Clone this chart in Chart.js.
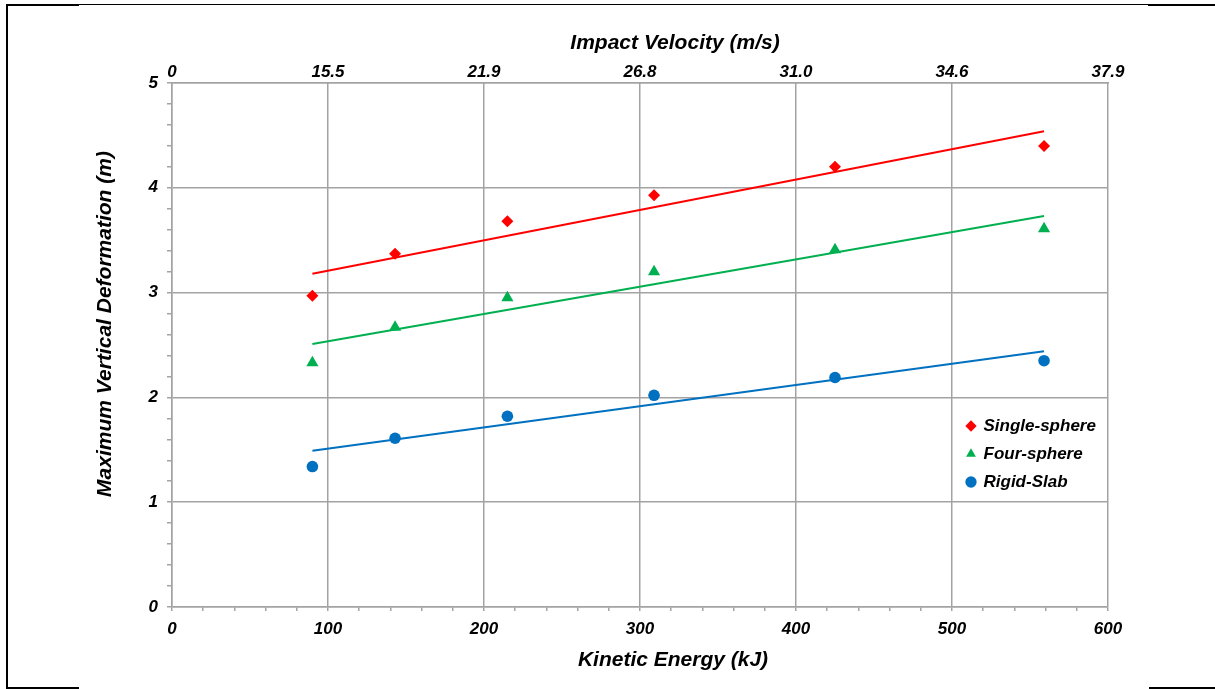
<!DOCTYPE html>
<html><head><meta charset="utf-8">
<script src="https://cdn.jsdelivr.net/npm/chart.js@4.4.1/dist/chart.umd.min.js"></script>
<style>html,body{margin:0;padding:0;background:#fff;} #wrap{width:1215px;height:689px;position:relative;}</style>
</head><body><div id="wrap"><canvas id="c"></canvas></div>
<script>
// ---- data ----
const energyKJ = [90, 143, 215, 309, 425, 559];
const singleSphere = [2.97, 3.37, 3.68, 3.93, 4.20, 4.40];
const fourSphere = [2.33, 2.67, 2.95, 3.20, 3.41, 3.61];
const rigidSlab = [1.34, 1.61, 1.82, 2.02, 2.19, 2.35];
const trendEnergy = [90, 559];
const singleTrend = [3.18, 4.54];
const fourTrend = [2.51, 3.73];
const rigidTrend = [1.49, 2.44];
const velocityLabels = ['0', '15.5', '21.9', '26.8', '31.0', '34.6', '37.9'];
const seriesNames = ['Single-sphere', 'Four-sphere', 'Rigid-Slab'];

// ---- styles ----
const RED = '#FF0000', GREEN = '#00B050', BLUE = '#0070C0';
const GRID = '#A3A3A3';
const FAMILY = '"Liberation Sans", Arial, sans-serif';
const tickFont = { family: FAMILY, size: 17, style: 'italic', weight: 'bold' };

Chart.defaults.font.family = FAMILY;
Chart.defaults.color = '#000';

const pts = (xs, ys) => xs.map((x, i) => ({ x: x, y: ys[i] }));
const isMult = (v, m) => Math.abs(v / m - Math.round(v / m)) < 1e-6;

function pointSet(label, ys, color, style, r) {
  return { label: label, data: pts(energyKJ, ys), showLine: false, pointStyle: style,
    pointRadius: r, pointHoverRadius: r, backgroundColor: color, borderColor: color,
    borderWidth: 0, pointBorderWidth: 0 };
}
function trendSet(label, ys, color) {
  return { label: label, data: pts(trendEnergy, ys), showLine: true, pointRadius: 0,
    pointHoverRadius: 0, borderColor: color, backgroundColor: color, borderWidth: 2, fill: false };
}

const legendPlacer = {
  id: 'legendPlacer',
  afterUpdate(chart) {
    const lg = chart.legend;
    if (!lg) return;
    lg.left = 956; lg.top = 406.5; lg.width = 170; lg.height = 110;
    lg.right = lg.left + lg.width; lg.bottom = lg.top + lg.height;
  }
};

const axisTitles = {
  id: 'axisTitles',
  afterDraw(chart) {
    const ctx = chart.ctx;
    const sc = chart.options.scales;
    ctx.save();
    ctx.fillStyle = '#000';
    ctx.font = 'italic bold 21px ' + FAMILY;
    ctx.textAlign = 'center';
    ctx.textBaseline = 'middle';
    ctx.fillText(sc.x2.title.text, 675, 43);
    ctx.fillText(sc.x.title.text, 673, 660);
    ctx.translate(105, 324);
    ctx.rotate(-Math.PI / 2);
    ctx.fillText(sc.y.title.text, 0, 0);
    ctx.restore();
  }
};

const frame = {
  id: 'frame',
  afterDraw(chart) {
    const ctx = chart.ctx;
    ctx.save();
    ctx.strokeStyle = '#000';
    ctx.lineWidth = 1;
    ctx.beginPath(); ctx.moveTo(7, 4.5); ctx.lineTo(1215, 4.5); ctx.stroke();
    ctx.lineWidth = 2;
    ctx.beginPath();
    ctx.moveTo(7, 4); ctx.lineTo(7, 689);
    ctx.moveTo(6, 5); ctx.lineTo(79, 5);
    ctx.moveTo(1148, 5); ctx.lineTo(1215, 5);
    ctx.moveTo(6, 688); ctx.lineTo(79, 688);
    ctx.moveTo(1149, 688); ctx.lineTo(1215, 688);
    ctx.stroke();
    ctx.restore();
  }
};

new Chart(document.getElementById('c'), {
  type: 'scatter',
  data: {
    datasets: [
      pointSet(seriesNames[0], singleSphere, RED, 'rectRot', 6),
      pointSet(seriesNames[1], fourSphere, GREEN, 'triangle', 7),
      pointSet(seriesNames[2], rigidSlab, BLUE, 'circle', 5.8),
      trendSet(seriesNames[0] + ' trend', singleTrend, RED),
      trendSet(seriesNames[1] + ' trend', fourTrend, GREEN),
      trendSet(seriesNames[2] + ' trend', rigidTrend, BLUE)
    ]
  },
  options: {
    responsive: true, maintainAspectRatio: false, animation: false, devicePixelRatio: 1,
    layout: { padding: { left: 0, right: 107, top: 0, bottom: 0 } },
    plugins: {
      tooltip: { enabled: false },
      legend: {
        position: 'chartArea', align: 'start',
        labels: { usePointStyle: true, boxWidth: 8, boxHeight: 8, padding: 11, color: '#000',
          font: { family: FAMILY, size: 17, style: 'italic', weight: 'bold' },
          filter: item => item.datasetIndex < 3 }
      }
    },
    scales: {
      x: {
        type: 'linear', position: 'bottom', min: 0, max: 600,
        ticks: { stepSize: 20, autoSkip: false, maxRotation: 0, padding: 8, color: '#000', font: tickFont,
          callback: v => isMult(v, 100) ? String(Math.round(v)) : '' },
        grid: { color: c => isMult(c.tick.value, 100) ? GRID : 'rgba(0,0,0,0)', tickColor: GRID, tickLength: 4, lineWidth: 1.5 },
        border: { color: GRID, width: 1.5 },
        title: { display: false, text: 'Kinetic Energy (kJ)' },
        afterFit: s => { s.height = 82; }
      },
      x2: {
        type: 'linear', position: 'top', min: 0, max: 600,
        ticks: { stepSize: 100, autoSkip: false, maxRotation: 0, padding: 0, color: '#000', font: tickFont,
          callback: (v, i) => velocityLabels[i] },
        grid: { display: false, drawTicks: false },
        border: { display: true, color: GRID, width: 1.5 },
        title: { display: false, text: 'Impact Velocity (m/s)' },
        afterFit: s => { s.height = 83; }
      },
      y: {
        type: 'linear', position: 'left', min: 0, max: 5,
        ticks: { stepSize: 0.2, autoSkip: false, padding: 9, color: '#000', font: tickFont,
          callback: v => isMult(v, 1) ? String(Math.round(v)) : '' },
        grid: { color: c => isMult(c.tick.value, 1) ? GRID : 'rgba(0,0,0,0)', tickColor: GRID, tickLength: 5, lineWidth: 1.5 },
        border: { color: GRID, width: 1.5 },
        title: { display: false, text: 'Maximum Vertical Deformation (m)' },
        afterFit: s => { s.width = 172; }
      }
    }
  },
  plugins: [legendPlacer, axisTitles, frame]
});
</script>
</body></html>
